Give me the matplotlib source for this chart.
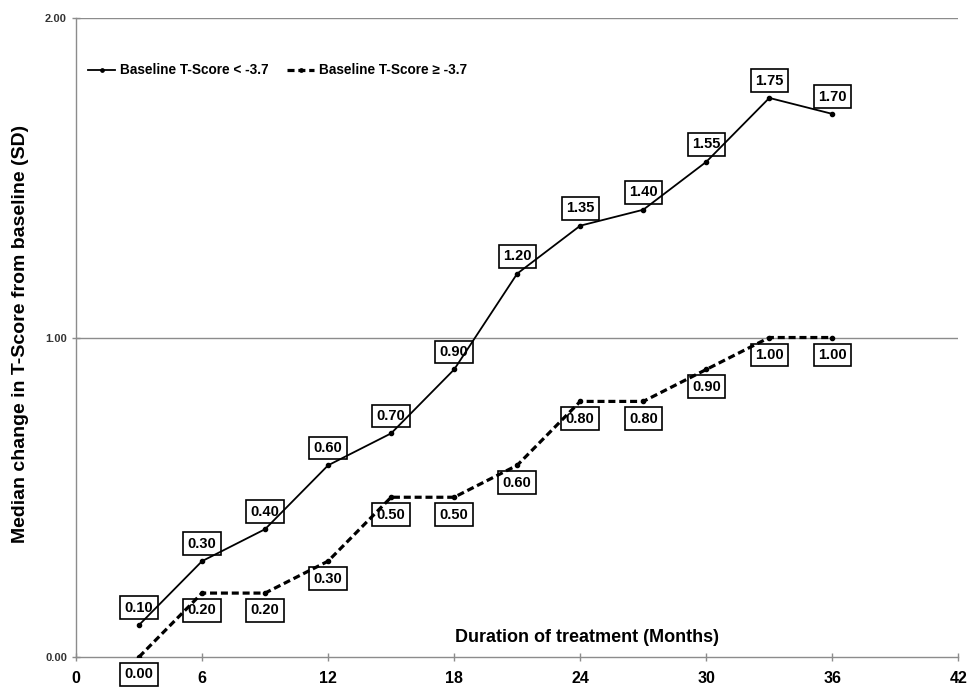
import matplotlib
matplotlib.use("Agg")
import matplotlib.pyplot as plt

plt.rcParams['font.family'] = ['Liberation Sans', 'DejaVu Sans']
plt.rcParams['font.weight'] = 'bold'

# data
months = [3, 6, 9, 12, 15, 18, 21, 24, 27, 30, 33, 36]
low_tscore = [0.10, 0.30, 0.40, 0.60, 0.70, 0.90, 1.20, 1.35, 1.40, 1.55, 1.75, 1.70]
high_tscore = [0.00, 0.20, 0.20, 0.30, 0.50, 0.50, 0.60, 0.80, 0.80, 0.90, 1.00, 1.00]
x_ticks = [0, 6, 12, 18, 24, 30, 36, 42]
y_ticks = [0.0, 1.0, 2.0]

fig = plt.figure(figsize=(9.74, 6.87), dpi=100)
ax = fig.add_axes([0.078, 0.0437, 0.906, 0.930])

grey = '#8c8c8c'
for yv in y_ticks[1:]:
    ax.axhline(yv, color=grey, lw=1.0, zorder=1)

ax.plot(months, low_tscore, color='black', lw=1.3, marker='o', ms=3,
        label='Baseline T-Score < -3.7', zorder=3)
ax.plot(months, high_tscore, color='black', lw=2.3, ls=(0, (2.2, 1.2)),
        marker='o', ms=3, label='Baseline T-Score \u2265 -3.7', zorder=3)

# boxed value labels: above the solid line, below the dashed one
box = dict(boxstyle='square,pad=0.3', fc='none', ec='black', lw=1.2)
for x, y in zip(months, low_tscore):
    ax.annotate(f'{y:.2f}', (x, y), xytext=(0, 12.5), textcoords='offset points',
                ha='center', va='center', fontsize=10.5, fontweight='bold',
                bbox=box, zorder=4, annotation_clip=False)
for x, y in zip(months, high_tscore):
    ax.annotate(f'{y:.2f}', (x, y), xytext=(0, -12.5), textcoords='offset points',
                ha='center', va='center', fontsize=10.5, fontweight='bold',
                bbox=box, zorder=4, annotation_clip=False)

ax.set_xlim(0, 42)
ax.set_ylim(0, 2.0)
ax.set_xticks(x_ticks)
ax.set_xticklabels([str(t) for t in x_ticks], fontsize=11.5, fontweight='bold')
ax.set_yticks(y_ticks)
ax.set_yticklabels([f'{t:.2f}' for t in y_ticks], fontsize=8, fontweight='bold', color='#333333')

for side in ['top', 'right']:
    ax.spines[side].set_visible(False)
for side in ['left', 'bottom']:
    ax.spines[side].set_color(grey)
    ax.spines[side].set_linewidth(1.0)
ax.tick_params(axis='both', direction='inout', length=6, color=grey, width=1.0)
ax.tick_params(axis='x', pad=7)

ax.set_ylabel('Median change in T-Score from baseline (SD)', fontsize=14,
              fontweight='bold')
ax.yaxis.set_label_coords(-0.053, 0.505)
ax.text(24.3, 0.06, 'Duration of treatment (Months)', ha='center', va='center',
        fontsize=13, fontweight='bold')

ax.legend(loc='center left', bbox_to_anchor=(0.0, 0.918), ncol=2, frameon=False,
          prop={'weight': 'bold', 'size': 9.8}, handlelength=2.0,
          handletextpad=0.3, columnspacing=1.4, markerscale=0.8)

fig.savefig('out.png', dpi=100)
